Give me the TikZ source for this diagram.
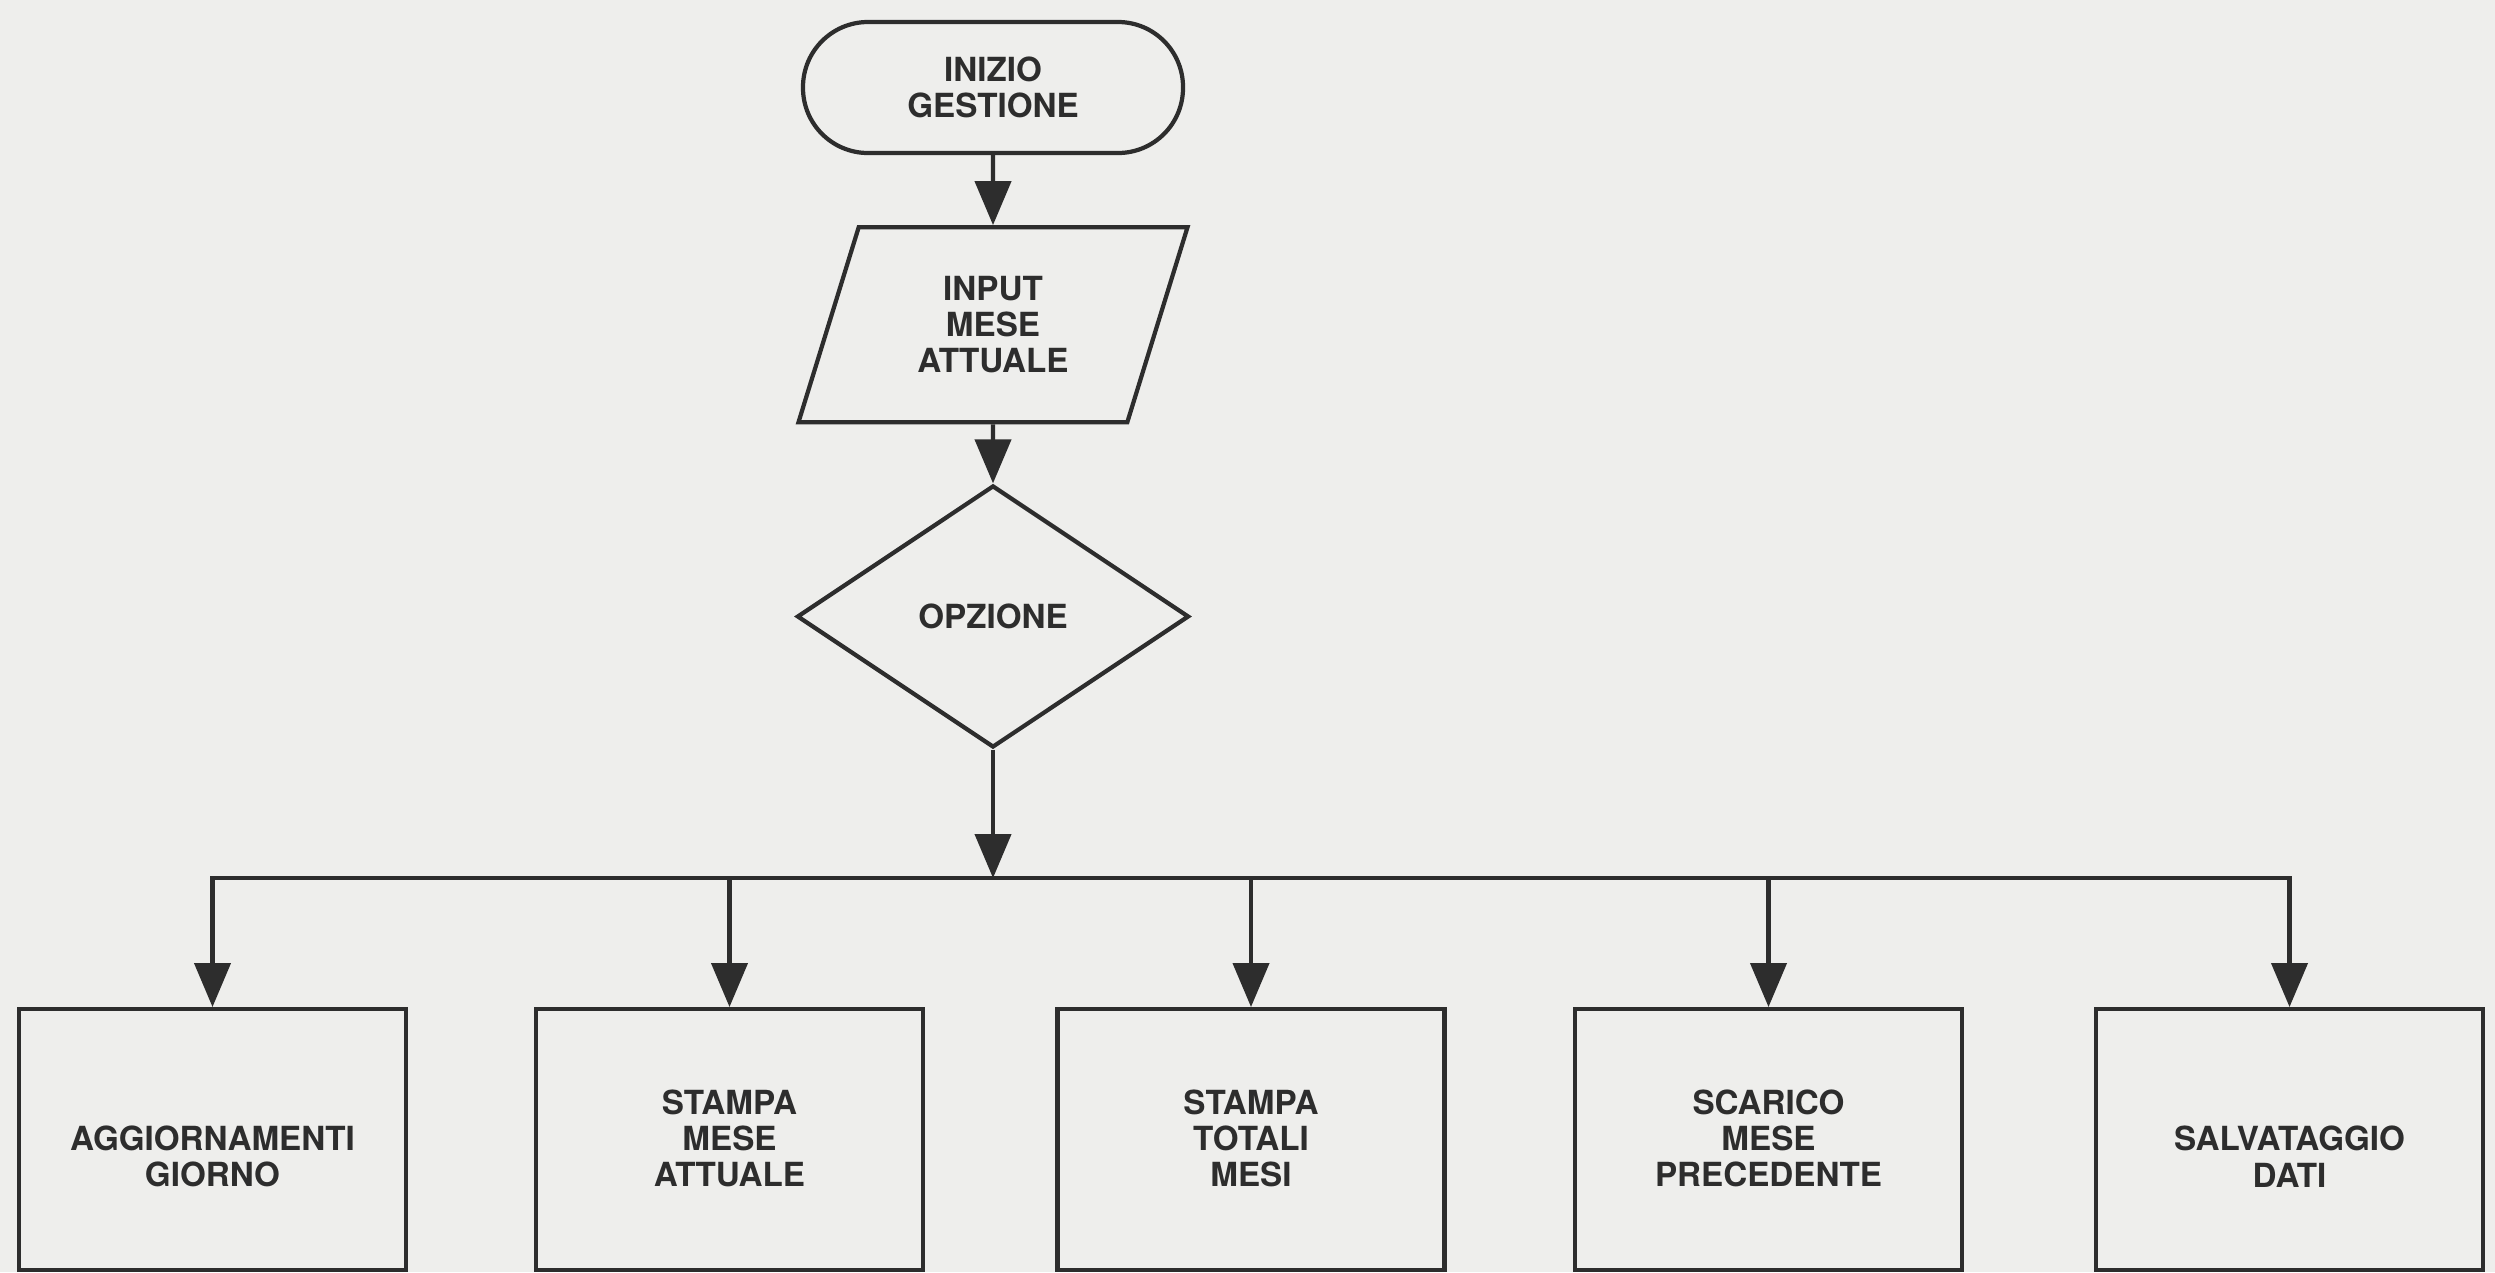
\documentclass[tikz,border=0pt]{standalone}
\usepackage{fontspec}
\setmainfont{TeX Gyre Heros}
\usepackage{tikz}
\usetikzlibrary{arrows.meta,positioning,calc,shapes.geometric}
\definecolor{paper}{RGB}{238,238,236}
\definecolor{ink}{RGB}{45,45,45}

\begin{document}
\begin{tikzpicture}[
    line width=1.2pt, color=ink,
    every node/.style={font=\fontsize{9.45}{10.3}\selectfont\bfseries, align=center, text=ink},
    flow/.style={-{Triangle[length=4.4mm,width=3.6mm]}},
    terminal/.style={draw, rectangle, rounded corners=6.5mm, minimum width=3.8cm, minimum height=1.31cm},
    io/.style={draw, trapezium, trapezium left angle=72, trapezium right angle=108,
        trapezium stretches, minimum width=3.89cm, minimum height=1.95cm},
    choice/.style={draw, diamond, minimum width=3.92cm, minimum height=2.62cm, inner sep=0pt},
    task/.style={draw, rectangle, minimum width=3.87cm, minimum height=2.61cm, anchor=north},
    tasktext/.style={anchor=south, inner sep=0pt},
]
    % Paper
    \fill[paper] (0,0) rectangle (24.95,-12.72);
    \useasboundingbox (0,0) rectangle (24.95,-12.72);

    % Start, input and choice
    \node[terminal] (start) at (9.93,-0.875) {INIZIO\\GESTIONE};
    \node[io, below=0.70cm of start] (input) {INPUT\\MESE\\ATTUALE};
    \node[choice, below=0.59cm of input] (opt) {OPZIONE};

    % The five options
    \node[task] (agg) at (2.125,-10.07) {};
    \node[task] (stm) at (7.295,-10.07) {};
    \node[task] (tot) at (12.51,-10.07) {};
    \node[task] (scar) at (17.685,-10.07) {};
    \node[task] (salv) at (22.895,-10.07) {};
    \node[tasktext] (aggtxt) at ($(agg.south)+(0,0.83)$) {AGGIORNAMENTI\\GIORNO};
    \node[tasktext] (stmtxt) at ($(stm.south)+(0,0.83)$) {STAMPA\\MESE\\ATTUALE};
    \node[tasktext] (tottxt) at ($(tot.south)+(0,0.83)$) {STAMPA\\TOTALI\\MESI};
    \node[tasktext] (scartxt) at ($(scar.south)+(0,0.83)$) {SCARICO\\MESE\\PRECEDENTE};
    \node[tasktext] (salvtxt) at ($(salv.south)+(0,0.83)$) {SALVATAGGIO\\DATI};

    % Bus line
    \coordinate (bus) at (opt.south |- 0,-8.78);
    \coordinate (busl) at (agg.north |- bus);
    \coordinate (busr) at (salv.north |- bus);

    \draw[flow] (start) -- (input);
    \draw[flow] (input) -- (opt);
    \draw[flow] (opt) -- (bus);
    \draw[line cap=rect] (busl) -- (busr);
    \draw[flow] (busl) -- (agg);
    \draw[flow] (stm.north |- bus) -- (stm);
    \draw[flow] (tot.north |- bus) -- (tot);
    \draw[flow] (scar.north |- bus) -- (scar);
    \draw[flow] (busr) -- (salv);
\end{tikzpicture}
\end{document}
